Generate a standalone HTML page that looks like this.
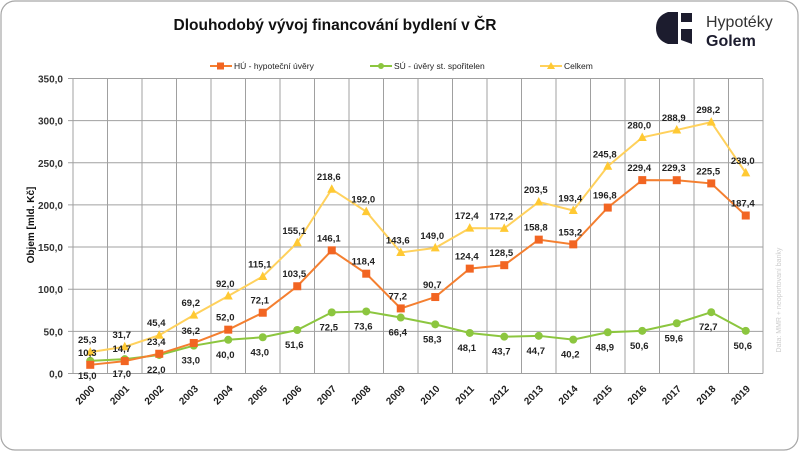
<!DOCTYPE html>
<html><head><meta charset="utf-8"><style>
body{margin:0;background:#fff;}
svg{display:block;font-family:"Liberation Sans",sans-serif;}
</style></head><body>
<svg id="s" width="800" height="452" xmlns="http://www.w3.org/2000/svg">
<rect x="1" y="1" width="797" height="449" rx="14" fill="#fff" stroke="#a6a6a6" stroke-width="1.2"/>
<text x="335" y="30" font-size="15.5" font-weight="bold" text-anchor="middle" fill="#111">Dlouhodobý vývoj financování bydlení v ČR</text>
<g fill="#1c1c2e">
<path d="M668 12 L678 12 L678 44 L668 44 Q656 40 656 28 Q656 16 668 12Z"/>
<path d="M681 13 L692 13 L692 22 L681 22Z"/>
<path d="M681 29 L692 29 L692 44 L681 40Z"/>
</g>
<text x="706" y="27" font-size="16" fill="#333">Hypotéky</text>
<text x="706" y="46" font-size="16" font-weight="bold" fill="#1c1c2e">Golem</text>
<g id="g"></g>
<text transform="translate(34,225) rotate(-90)" font-size="10" font-weight="bold" text-anchor="middle" fill="#111">Objem [mld. Kč]</text>
<text transform="translate(781,300) rotate(-90)" font-size="7" text-anchor="middle" fill="#ccc">Data: MMR + neoportovaní banky</text>
</svg>
<script>
var g=document.getElementById('g'),h='';
var X0=73,W=34.5,Y0=373.5,K=42.15/50;
function y(v){return Y0-v*K}
for(var i=0;i<=20;i++){var x=X0+i*W;h+='<line x1="'+x+'" y1="79" x2="'+x+'" y2="'+Y0+'" stroke="#a0a0a0"/>';}
for(var v=0;v<=350;v+=50){h+='<line x1="'+(X0-5)+'" y1="'+y(v)+'" x2="'+(X0+20*W)+'" y2="'+y(v)+'" stroke="#a0a0a0"/>';
h+='<text x="63" y="'+(y(v)+4)+'" font-size="10" font-weight="bold" text-anchor="end" fill="#333">'+v.toFixed(1).replace('.',',')+'</text>';}
var hu=[10.3,14.7,23.4,36.2,52.0,72.1,103.5,146.1,118.4,77.2,90.7,124.4,128.5,158.8,153.2,196.8,229.4,229.3,225.5,187.4];
var su=[15,17,22,33,40,43,51.6,72.5,73.6,66.4,58.3,48.1,43.7,44.7,40.2,48.9,50.6,59.6,72.7,50.6];
var ce=[25.3,31.7,45.4,69.2,92.0,115.1,155.1,218.6,192.0,143.6,149.0,172.4,172.2,203.5,193.4,245.8,280.0,288.9,298.2,238.0];
function f(v){return v.toFixed(1).replace('.',',')}
function line(d,c){var p=d.map(function(v,i){return (X0+W*(i+.5))+','+y(v)}).join(' ');return '<polyline points="'+p+'" fill="none" stroke="'+c+'" stroke-width="2"/>';}
h+=line(su,'#8cc63f')+line(hu,'#f47f30')+line(ce,'#ffd15c');
for(var i=0;i<20;i++){var x=X0+W*(i+.5);
h+='<circle cx="'+x+'" cy="'+y(su[i])+'" r="4" fill="#8cc63f"/>';
h+='<rect x="'+(x-4)+'" y="'+(y(hu[i])-4)+'" width="8" height="8" fill="#f26522"/>';
var yc=y(ce[i]);h+='<path d="M'+x+' '+(yc-5)+' L'+(x+4.5)+' '+(yc+3.5)+' L'+(x-4.5)+' '+(yc+3.5)+'Z" fill="#ffc933"/>';
h+='<text x="'+(x-3)+'" y="'+(yc-9)+'" font-size="9.5" font-weight="bold" text-anchor="middle" fill="#222">'+f(ce[i])+'</text>';
h+='<text x="'+(x-3)+'" y="'+(y(hu[i])-9)+'" font-size="9.5" font-weight="bold" text-anchor="middle" fill="#222">'+f(hu[i])+'</text>';
h+='<text x="'+(x-3)+'" y="'+(y(su[i])+18)+'" font-size="9.5" font-weight="bold" text-anchor="middle" fill="#222">'+f(su[i])+'</text>';
h+='<text transform="translate('+(x+5)+','+(Y0+16)+') rotate(-45)" font-size="10" font-weight="bold" text-anchor="end" fill="#222">'+(2000+i)+'</text>';}
// legend
h+='<line x1="210" y1="66" x2="232" y2="66" stroke="#f47f30" stroke-width="2"/><rect x="217" y="62.5" width="7" height="7" fill="#f26522"/><text x="234" y="69" font-size="8.5" fill="#222">HÚ - hypoteční úvěry</text>';
h+='<line x1="370" y1="66" x2="392" y2="66" stroke="#8cc63f" stroke-width="2"/><circle cx="381" cy="66" r="3" fill="#8cc63f"/><text x="394" y="69" font-size="8.5" fill="#222">SÚ - úvěry st. spořitelen</text>';
h+='<line x1="540" y1="66" x2="562" y2="66" stroke="#ffd15c" stroke-width="2"/><path d="M551 62 L555 69 L547 69Z" fill="#ffc933"/><text x="564" y="69" font-size="8.5" fill="#222">Celkem</text>';
g.innerHTML=h;
</script>
</body></html>
